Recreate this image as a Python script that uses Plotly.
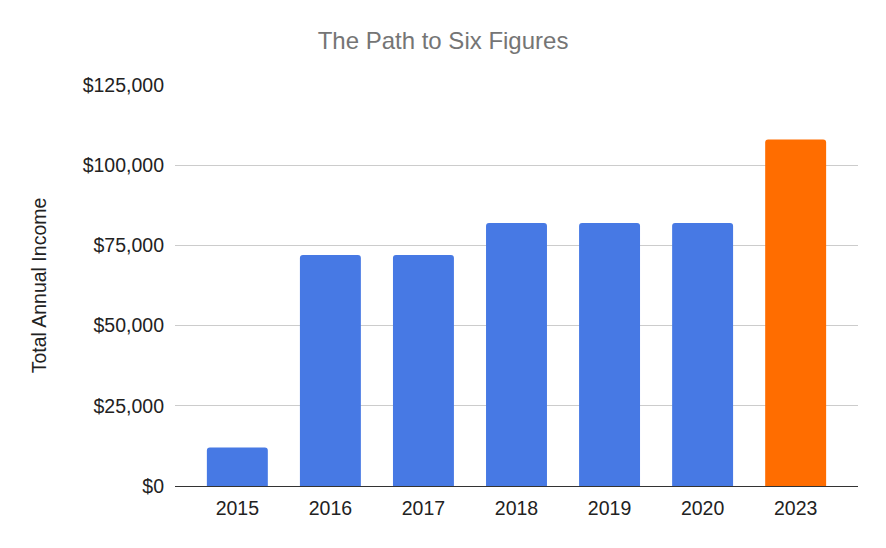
import plotly.graph_objects as go

years = ["2015", "2016", "2017", "2018", "2019", "2020", "2023"]
income = [12000, 72000, 72000, 82000, 82000, 82000, 108000]
colors = ["#4779e4"] * 6 + ["#ff6d00"]
tick_vals = [0, 25000, 50000, 75000, 100000, 125000]
tick_text = ["$0", "$25,000", "$50,000", "$75,000", "$100,000", "$125,000"]

fig = go.Figure(go.Bar(x=years, y=income, marker=dict(color=colors, line=dict(width=0)),
                       hoverinfo="x+y"))

fig.update_layout(
    width=886, height=548,
    margin=dict(l=167, r=36, t=77, b=70, autoexpand=False),
    paper_bgcolor="white", plot_bgcolor="white",
    font=dict(family="Liberation Sans, Arial, sans-serif", size=19.5, color="#222222"),
    title=dict(text="The Path to Six Figures", x=0.491, xanchor="center", y=0.94, yanchor="middle",
               font=dict(size=24, color="#757575")),
    bargap=0.345,
    barcornerradius=3,
    showlegend=False,
)
fig.update_xaxes(type="category", showgrid=False, showline=False, ticks="",
                 range=[-0.67, 6.67],
                 ticklabelstandoff=8, tickfont=dict(size=19.5, color="#222222"))
fig.update_yaxes(range=[0, 125000], tickvals=tick_vals, ticktext=tick_text,
                 showgrid=True, gridcolor="#cccccc", gridwidth=1,
                 zeroline=True, zerolinecolor="#333333", zerolinewidth=1,
                 showline=False, ticks="", ticklen=0, ticklabelstandoff=10,
                 tickfont=dict(size=19.5, color="#222222"),
                 title=dict(text="Total Annual Income", font=dict(size=19.5, color="#222222"), standoff=30))

fig.write_html("out.html")
